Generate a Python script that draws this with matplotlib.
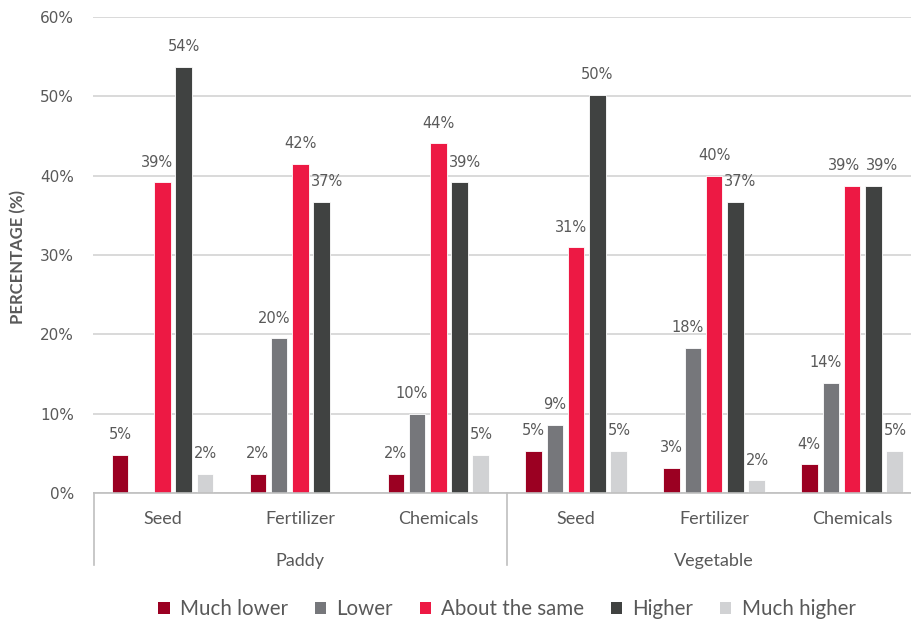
import matplotlib
matplotlib.use("Agg")
import matplotlib.pyplot as plt
from matplotlib.lines import Line2D
from matplotlib.patches import Patch
import numpy as np

# Survey responses: change in input cost compared with last season
groups = ["Paddy", "Vegetable"]
inputs = ["Seed", "Fertilizer", "Chemicals"]
responses = ["Much lower", "Lower", "About the same", "Higher", "Much higher"]
colors = ["#9B0022", "#76777B", "#ED1944", "#404241", "#D1D2D4"]

# Percentages per response, ordered Paddy (Seed, Fertilizer, Chemicals), Vegetable (Seed, Fertilizer, Chemicals)
much_lower = [4.8, 2.4, 2.4, 5.3, 3.2, 3.6]
lower = [0.0, 19.5, 10.0, 8.6, 18.3, 13.9]
about_same = [39.2, 41.5, 44.1, 31.0, 40.0, 38.7]
higher = [53.7, 36.7, 39.2, 50.2, 36.7, 38.7]
much_higher = [2.4, 0.0, 4.8, 5.3, 1.6, 5.3]
series = [much_lower, lower, about_same, higher, much_higher]

yticks = [0, 10, 20, 30, 40, 50, 60]

text_grey = "#595959"
cat_font = "Lato"
DPI = 100

fig = plt.figure(figsize=(9.12, 6.21), dpi=DPI)
ax = fig.add_axes([93.5 / 912, 1 - 493 / 621, (921 - 93.5) / 912, (493 - 17) / 621])

n_cat = len(groups) * len(inputs)
x = np.arange(n_cat)
slot = 0.154
width = 0.12

bar_grid = []    # bar_grid[series][category]
label_grid = []  # label_grid[series][category] (None when no label)
for i, (vals, col) in enumerate(zip(series, colors)):
    offs = (i - 2) * slot
    vals = np.array(vals)
    bars = ax.bar(x + offs, vals, width=width, color=col, edgecolor="white",
                  linewidth=0.6, zorder=3)
    labels = []
    for b, v in zip(bars, vals):
        if v <= 0:
            labels.append(None)
            continue
        labels.append(ax.annotate(f"{v:.0f}%", (b.get_x() + b.get_width() / 2, v),
                                  xytext=(0, 9), textcoords="offset points",
                                  ha="center", va="bottom", fontsize=10.5,
                                  color=text_grey, family="DejaVu Sans"))
    bar_grid.append(list(bars))
    label_grid.append(labels)

ax.set_xlim(-0.5, n_cat - 0.5)
ax.set_ylim(0, 60)
ax.set_yticks(yticks)
ax.set_yticklabels([f"{t}%" for t in yticks], fontsize=11, color=text_grey,
                   family="DejaVu Sans")
ax.tick_params(axis="y", length=0, pad=14)
ax.set_xticks([])
ax.yaxis.grid(True, color="#D9D9D9", linewidth=1.4, zorder=0)
for s in ["top", "right", "left"]:
    ax.spines[s].set_visible(False)
ax.spines["bottom"].set_color("#BFBFBF")
ax.spines["bottom"].set_linewidth(1.2)
ax.spines["bottom"].set_zorder(4)

# Nudge value labels sideways so they clear taller neighbouring bars and each other
fig.canvas.draw()
renderer = fig.canvas.get_renderer()
px_to_pt = 72.0 / DPI
gap = 2.0
n_ser = len(series)
for c in range(n_cat):
    shifts = {}
    for s in range(n_ser):
        lab = label_grid[s][c]
        if lab is None:
            continue
        bb = lab.get_window_extent(renderer)
        dx = 0.0
        for nb in (s - 1, s + 1):
            if nb < 0 or nb >= n_ser:
                continue
            bbar = bar_grid[nb][c].get_window_extent(renderer)
            if bbar.y1 <= bb.y0 or bbar.height <= 0:
                continue
            if nb < s and bb.x0 < bbar.x1 + gap:
                dx = bbar.x1 + gap - bb.x0
            elif nb > s and bb.x1 > bbar.x0 - gap:
                dx = bbar.x0 - gap - bb.x1
        shifts[s] = dx
    # separate labels that still collide with one another
    keys = sorted(shifts)
    for a, b in zip(keys[:-1], keys[1:]):
        la, lb = label_grid[a][c], label_grid[b][c]
        ba = la.get_window_extent(renderer).translated(shifts[a], 0)
        bb2 = lb.get_window_extent(renderer).translated(shifts[b], 0)
        overlap_y = ba.y0 < bb2.y1 and bb2.y0 < ba.y1
        need = ba.x1 + 6 - bb2.x0
        if overlap_y and need > 0:
            shifts[a] -= need / 2
            shifts[b] += need / 2
    for s, dx in shifts.items():
        if dx:
            label_grid[s][c].xyann = (dx * px_to_pt, 9)

# two-level category axis
trans = ax.get_xaxis_transform()
px = 1 / (493 - 17)
for xi, name in zip(x, inputs * len(groups)):
    ax.text(xi, -26 * px, name, transform=trans, ha="center", va="center",
            fontsize=13, color=text_grey, family=cat_font)
for gi, g in enumerate(groups):
    center = gi * len(inputs) + (len(inputs) - 1) / 2
    ax.text(center, -68 * px, g, transform=trans, ha="center", va="center",
            fontsize=13, color=text_grey, family=cat_font)
for b in np.arange(len(groups) + 1) * len(inputs) - 0.5:
    ax.add_line(Line2D([b, b], [0, -72 * px], transform=trans, color="#BFBFBF",
                       linewidth=1.2, clip_on=False))

fig.text(18 / 912, 1 - 257 / 621, "PERCENTAGE (%)", rotation=90, ha="center",
         va="center", fontsize=12, fontweight="bold", color=text_grey,
         family=cat_font)

handles = [Patch(facecolor=c, edgecolor="none") for c in colors]
fig.legend(handles, responses, loc="center", bbox_to_anchor=(507 / 912, 1 - 609 / 621),
           ncol=5, frameon=False, handlelength=0.55, handleheight=0.55,
           handletextpad=0.5, columnspacing=1.3,
           prop={"family": cat_font, "size": 14.8}, labelcolor=text_grey)

fig.savefig("out.png", dpi=DPI)
